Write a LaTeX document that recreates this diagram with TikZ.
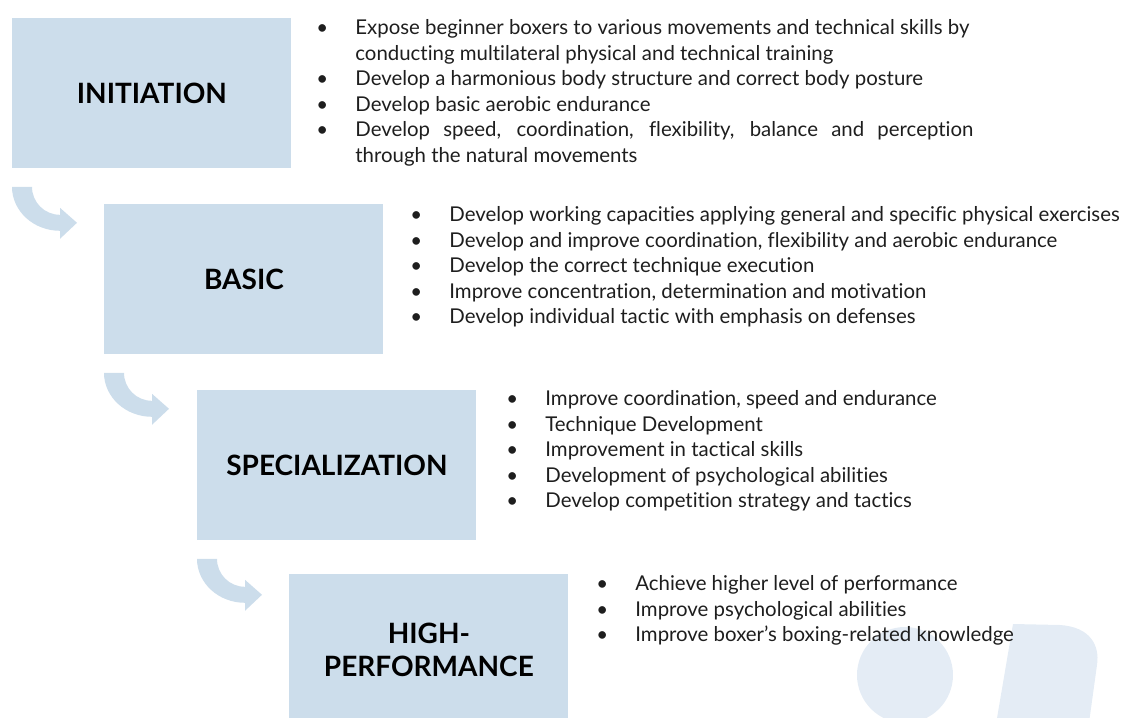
\documentclass[tikz,border=0pt]{standalone}
\usepackage{fontspec}
\setmainfont{Lato}[Ligatures={NoCommon}]
\usetikzlibrary{positioning}

\definecolor{stagefill}{RGB}{204,221,235}
\definecolor{decofill}{RGB}{228,236,245}
\definecolor{itemtext}{RGB}{30,30,30}
\newcommand{\bitem}[1]{\makebox[19.5pt][l]{\textbullet}#1}
\newcommand{\bcont}[1]{\hspace*{19.5pt}#1}

\begin{document}
\begin{tikzpicture}[x=0.5pt,y=-0.5pt,
  stage/.style={fill=stagefill, anchor=north west, minimum width=139.5pt, minimum height=75pt,
    inner sep=0pt, align=center, font=\fontsize{14}{16.5}\selectfont\bfseries},
  items/.style={anchor=north west, inner sep=0pt, align=left, text=itemtext,
    font=\fontsize{10.2}{12.8}\selectfont},
  turn/.pic={\fill[stagefill] (0,18) -- (20,18) .. controls (20,33.5) and (32.5,46) .. (48,46)
    -- (48,39) -- (65,54) -- (48,70) -- (48,62) .. controls (21.5,62) and (0,42.3) .. (0,18) -- cycle;}]
\useasboundingbox (0,0) rectangle (1131,718);

% background decoration
\fill[decofill] (905,675) circle[radius=48];
\fill[decofill] (995,730) -- (1013,624) -- (1060,625) .. controls (1090,627) and (1100,645) .. (1097,665) -- (1088,730) -- cycle;

% stages
\node[stage] (init) at (12,18) {INITIATION};
\node[stage] (basic) at (104,204) {BASIC};
\node[stage] (spec) at (197,390) {SPECIALIZATION};
\node[stage] (high) at (289,574) {HIGH-\\PERFORMANCE};

% turning arrows
\pic at (init.south west) {turn};
\pic at (basic.south west) {turn};
\pic at (spec.south west) {turn};

% aims of each stage
\node[items] (initlist) at (316,19) {%
  \bitem{Expose beginner boxers to various movements and technical skills by}\\
  \bcont{conducting multilateral physical and technical training}\\
  \bitem{Develop a harmonious body structure and correct body posture}\\
  \bitem{Develop basic aerobic endurance}\\
  \bitem{\makebox[309pt][s]{Develop speed, coordination, flexibility, balance and perception}}\\
  \bcont{through the natural movements}};
\node[items] (basiclist) at (410,206) {%
  \bitem{Develop working capacities applying general and specific physical exercises}\\
  \bitem{Develop and improve coordination, flexibility and aerobic endurance}\\
  \bitem{Develop the correct technique execution}\\
  \bitem{Improve concentration, determination and motivation}\\
  \bitem{Develop individual tactic with emphasis on defenses}};
\node[items] (speclist) at (506,390) {%
  \bitem{Improve coordination, speed and endurance}\\
  \bitem{Technique Development}\\
  \bitem{Improvement in tactical skills}\\
  \bitem{Development of psychological abilities}\\
  \bitem{Develop competition strategy and tactics}};
\node[items] (highlist) at (596,575) {%
  \bitem{Achieve higher level of performance}\\
  \bitem{Improve psychological abilities}\\
  \bitem{Improve boxer’s boxing-related knowledge}};
\end{tikzpicture}
\end{document}
